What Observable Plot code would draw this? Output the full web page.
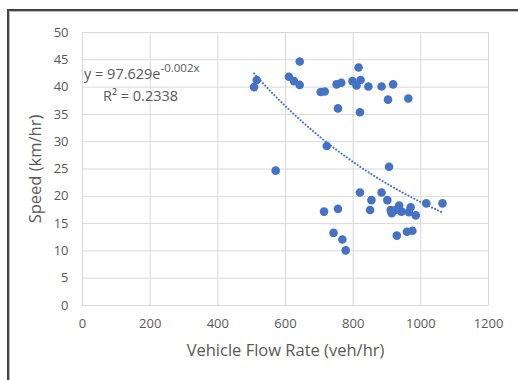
<!DOCTYPE html>
<html>
<head>
<meta charset="utf-8">
<script src="https://cdn.jsdelivr.net/npm/d3@7"></script>
<script src="https://cdn.jsdelivr.net/npm/@observablehq/plot@0.6"></script>
<style>
  html, body { margin: 0; padding: 0; background: #fff; }
  #wrap { position: relative; width: 518px; height: 380px; overflow: hidden; font-family: "Open Sans", "Liberation Sans", sans-serif; }
  #border { position: absolute; left: 7px; top: 9px; width: 600px; height: 400px; border-top: 2px solid #444; border-left: 2px solid #444; box-shadow: inset 1px 1px 0 #bbb; }
  #eq { position: absolute; left: 84px; top: 63px; font-size: 14.5px; color: #595959; line-height: 21px; white-space: nowrap; }
  #eq sup { font-size: 11.5px; vertical-align: 0; position: relative; top: -7px; }
  #eq .r2 { padding-left: 19px; }
</style>
</head>
<body>
<div id="wrap">
  <div id="chart"></div>
  <div id="border"></div>
  <div id="eq"><div>y = 97.629e<sup>-0.002x</sup></div><div class="r2">R² = 0.2338</div></div>
</div>
<script>
// Vehicle flow rate (veh/hr) and speed (km/hr)
const flow = [507, 515, 610, 625, 642, 642, 704, 716, 755, 751, 765, 816, 798, 810, 822, 820, 845, 884, 903, 918, 963,
  571, 906, 722, 820, 884, 854, 901, 1016, 1064, 714, 755, 850, 911, 914, 936, 943, 970, 965, 985, 926,
  742, 768, 778, 929, 959, 975];
const speed = [40.0, 41.3, 41.9, 41.1, 40.4, 44.7, 39.1, 39.2, 36.1, 40.5, 40.8, 43.6, 41.1, 40.3, 41.3, 35.4, 40.1, 40.1, 37.7, 40.5, 37.9,
  24.7, 25.4, 29.2, 20.7, 20.7, 19.3, 19.3, 18.7, 18.7, 17.2, 17.7, 17.5, 17.5, 16.9, 18.3, 17.2, 18.0, 17.1, 16.5, 17.5,
  13.3, 12.1, 10.1, 12.8, 13.5, 13.7];
// Exponential trendline y = a * e^(b x)
const trendA = 97.629;
const trendB = -0.00164;
const xTicks = [0, 200, 400, 600, 800, 1000, 1200];
const yTicks = [0, 5, 10, 15, 20, 25, 30, 35, 40, 45, 50];

const points = flow.map((f, i) => ({flow: f, speed: speed[i]}));
const [xmin, xmax] = d3.extent(flow);
const trend = d3.range(0, 101).map(i => {
  const x = xmin + (xmax - xmin) * i / 100;
  return {flow: x, speed: trendA * Math.exp(trendB * x)};
});

const chart = Plot.plot({
  width: 518,
  height: 380,
  marginLeft: 82,
  marginRight: 30,
  marginTop: 32,
  marginBottom: 75,
  style: {fontFamily: "'Open Sans', 'Liberation Sans', sans-serif", fontSize: "13px", color: "#595959", background: "transparent"},
  x: {domain: [0, 1200]},
  y: {domain: [0, 50]},
  marks: [
    Plot.gridX(xTicks, {stroke: "#d9d9d9", strokeOpacity: 1, strokeWidth: 1}),
    Plot.gridY(yTicks, {stroke: "#d9d9d9", strokeOpacity: 1, strokeWidth: 1}),
    Plot.axisX({ticks: xTicks, tickFormat: d => String(d), tickSize: 0, tickPadding: 13, fill: "#595959", fontSize: 13, label: "Vehicle Flow Rate (veh/hr)", labelAnchor: "center", labelOffset: 50, labelArrow: "none"}),
    Plot.axisY({ticks: yTicks, tickFormat: d => String(d), tickSize: 0, tickPadding: 14, fill: "#595959", fontSize: 13, label: "Speed (km/hr)", labelAnchor: "center", labelOffset: 53, labelArrow: "none"}),
    Plot.line(trend, {x: "flow", y: "speed", stroke: "#4472C4", strokeWidth: 2, strokeDasharray: "0.1,3.2", strokeLinecap: "round"}),
    Plot.dot(points, {x: "flow", y: "speed", r: 4.3, fill: "#4472C4", stroke: "none"})
  ]
});
document.getElementById("chart").appendChild(chart);
chart.querySelectorAll("g[aria-label='x-axis label'] text, g[aria-label='y-axis label'] text").forEach(t => { t.setAttribute("font-size", "16.5"); t.style.fontSize = "16.5px"; });
</script>
</body>
</html>
